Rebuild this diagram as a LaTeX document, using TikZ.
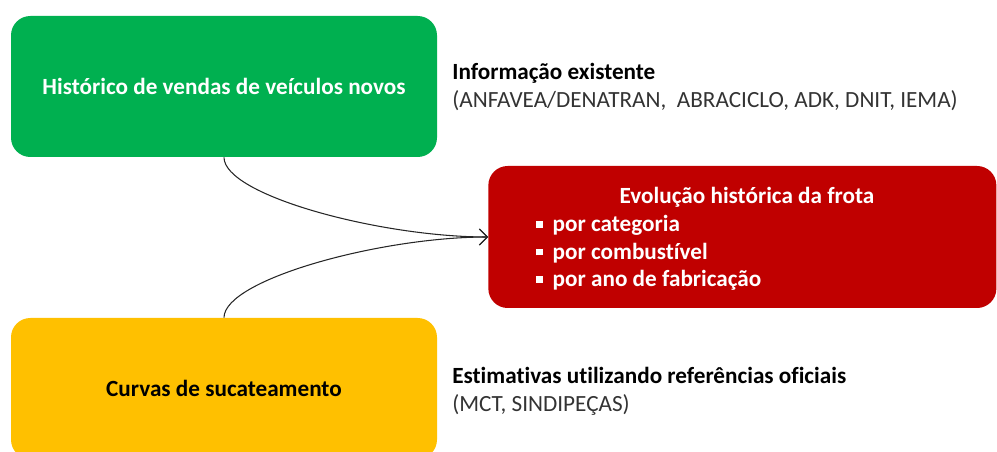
\documentclass[tikz,border=0pt]{standalone}
\usepackage{fontspec}
\setmainfont{Carlito}[Ligatures=NoCommon]
\usetikzlibrary{
  positioning,
  arrows.meta
}
\definecolor{salesgreen}{HTML}{00B050}
\definecolor{fleetred}{HTML}{C00000}
\definecolor{scrapyellow}{HTML}{FFC000}
\definecolor{notegray}{HTML}{333333}
\newcommand{\sqbullet}{\raisebox{2.2pt}{\rule{3.8pt}{3.8pt}}\hspace{5.5pt}}
\tikzset{
  x=0.02cm, y=-0.02cm,
  flow/.style={->, >={Straight Barb[length=4.5pt,width=9pt]}, black!85, line width=0.6pt},
  block/.style={rounded corners=11pt, inner sep=0pt, font=\fontsize{13.2}{15.9}\selectfont\bfseries},
  note/.style={anchor=west, align=left, inner sep=0pt, text=notegray, font=\fontsize{13.2}{15.9}\selectfont},
  boxtext/.style={inner sep=0pt, text=white, font=\fontsize{13.2}{15.6}\selectfont\bfseries}
}

\begin{document}
\begin{tikzpicture}
    \useasboundingbox (0,0) rectangle (997,452);
    \clip (0,0) rectangle (997,452);

    % the three boxes
    \node[block, fill=salesgreen, text=white, minimum width=426*0.02cm, minimum height=141*0.02cm] (sales) at (224,86.5) {Histórico de vendas de veículos novos};
    \node[block, fill=fleetred, minimum width=508*0.02cm, minimum height=142*0.02cm, anchor=west] (fleet) at (488,237) {};
    \node[block, fill=scrapyellow, text=black, minimum width=426*0.02cm, minimum height=141*0.02cm] (scrap) at (224,388.5) {Curvas de sucateamento};

    % text inside the red box
    \node[boxtext] (fleettitle) at (747,197) {Evolução histórica da frota};
    \node[boxtext, anchor=west, align=left] (fleetlist) at (536,253) {\sqbullet por categoria\\\sqbullet por combustível\\\sqbullet por ano de fabricação};

    % notes beside the boxes
    \node[note] (salesnote) at (452,87) {\textbf{\color{black}Informação existente}\\(ANFAVEA/DENATRAN, \ ABRACICLO, ADK, DNIT, IEMA)};
    \node[note] (scrapnote) at (452,391) {\textbf{\color{black}Estimativas utilizando referências oficiais}\\(MCT, SINDIPEÇAS)};

    \draw[flow] (sales.south) .. controls +(0,38) and +(-108,0) .. (fleet.west);
    \draw[flow] (scrap.north) .. controls +(0,-38) and +(-108,0) .. (fleet.west);
\end{tikzpicture}
\end{document}
